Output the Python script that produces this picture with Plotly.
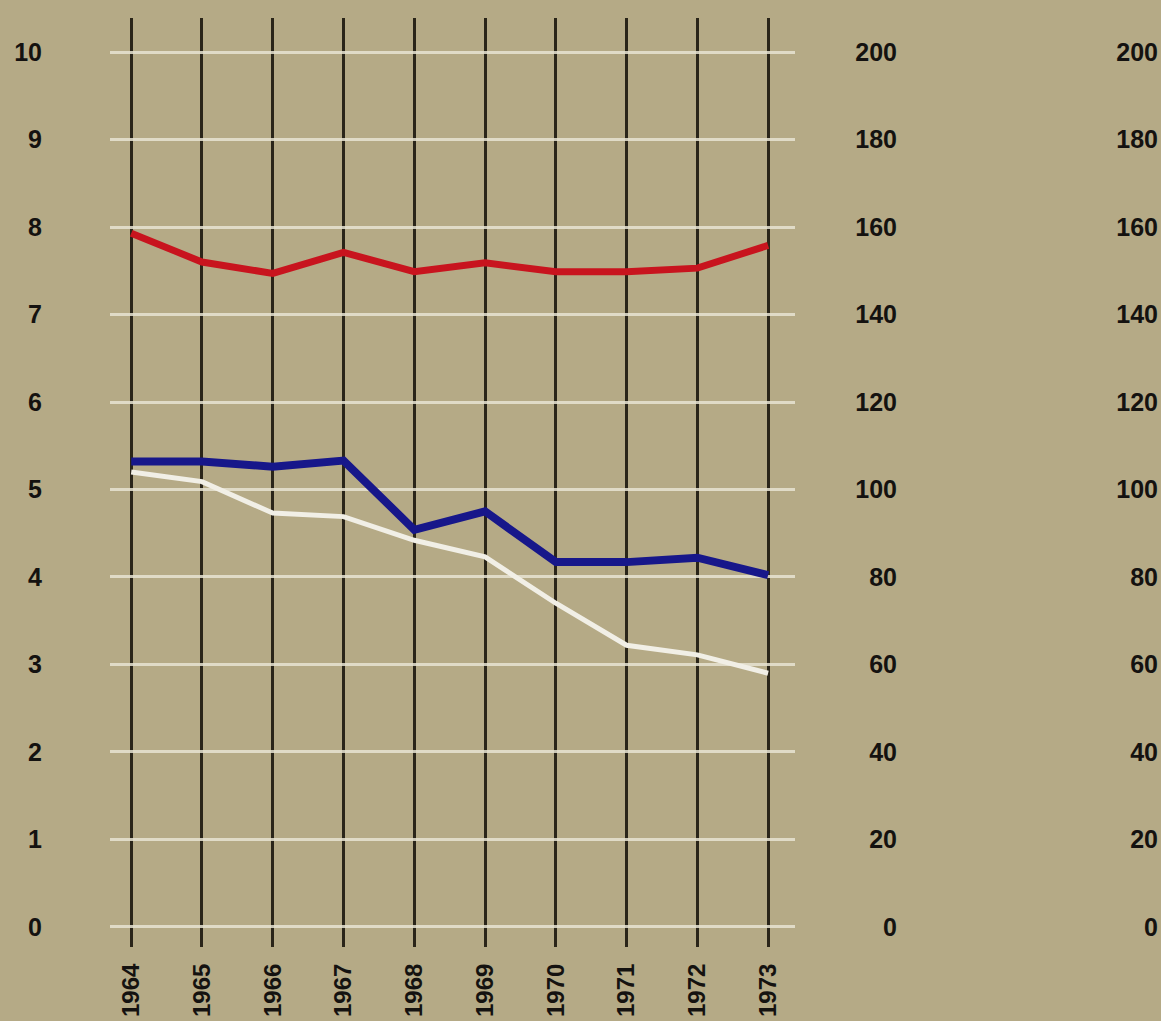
import plotly.graph_objects as go

years = ["1964", "1965", "1966", "1967", "1968", "1969", "1970", "1971", "1972", "1973"]
red_values = [7.93, 7.60, 7.47, 7.71, 7.49, 7.59, 7.49, 7.49, 7.53, 7.79]
blue_values = [5.32, 5.32, 5.26, 5.33, 4.54, 4.75, 4.17, 4.17, 4.22, 4.02]
white_values = [5.20, 5.09, 4.73, 4.69, 4.42, 4.23, 3.70, 3.22, 3.11, 2.90]
left_ticks = [0, 1, 2, 3, 4, 5, 6, 7, 8, 9, 10]
right_ticks = [0, 20, 40, 60, 80, 100, 120, 140, 160, 180, 200]

BG = "#b5aa86"
INK = "#141210"
FONT = dict(family="Liberation Sans, Arial, sans-serif", size=25, color=INK, weight="bold")
XFONT = dict(family="Liberation Sans, Arial, sans-serif", size=24, color=INK, weight="bold")

y_lo, y_hi = -0.229, 10.389
scale = 20

fig = go.Figure()
fig.add_trace(go.Scatter(x=years, y=white_values, mode="lines",
                         line=dict(color="#f1efe6", width=5), hoverinfo="skip", showlegend=False))
fig.add_trace(go.Scatter(x=years, y=blue_values, mode="lines",
                         line=dict(color="#17178a", width=8), hoverinfo="skip", showlegend=False))
fig.add_trace(go.Scatter(x=years, y=red_values, mode="lines",
                         line=dict(color="#c8141e", width=7), hoverinfo="skip", showlegend=False))
# helper traces so the right-hand scales are drawn
fig.add_trace(go.Scatter(x=[], y=[], yaxis="y2", showlegend=False, hoverinfo="skip"))
fig.add_trace(go.Scatter(x=[], y=[], yaxis="y3", showlegend=False, hoverinfo="skip"))

L = 110
paper_w = 1161 - L
x_domain_end = 685 / paper_w

fig.update_layout(
    width=1161, height=1021,
    margin=dict(l=L, r=0, t=18, b=74, autoexpand=False),
    paper_bgcolor=BG, plot_bgcolor=BG,
    font=FONT,
    showlegend=False,
    xaxis=dict(
        type="category", range=[-0.3, 9.38], domain=[0, x_domain_end],
        showgrid=True, gridcolor="#2a2519", gridwidth=2.5,
        showline=False, zeroline=False,
        ticks="outside", ticklen=6, tickcolor="rgba(0,0,0,0)",
        tickangle=-90, tickfont=XFONT, automargin=False,
    ),
    yaxis=dict(
        range=[y_lo, y_hi], tickvals=left_ticks, ticktext=[str(v) for v in left_ticks],
        showgrid=True, gridcolor="rgba(232,228,210,0.85)", gridwidth=2.5,
        zeroline=False, showline=False,
        ticks="outside", ticklen=62, tickcolor="rgba(0,0,0,0)",
        tickfont=FONT, automargin=False,
    ),
    yaxis2=dict(
        overlaying="y", side="right", anchor="free", position=(900 - L) / paper_w,
        range=[y_lo * scale, y_hi * scale], tickvals=right_ticks,
        ticktext=[str(v) for v in right_ticks],
        ticklabelposition="inside", ticks="", showgrid=False, zeroline=False,
        showline=False, tickfont=FONT, automargin=False,
    ),
    yaxis3=dict(
        overlaying="y", side="right", anchor="free", position=1.0,
        range=[y_lo * scale, y_hi * scale], tickvals=right_ticks,
        ticktext=[str(v) for v in right_ticks],
        ticklabelposition="inside", ticks="", showgrid=False, zeroline=False,
        showline=False, tickfont=FONT, automargin=False,
    ),
)

fig.write_html(
    "out.html",
    config={"displayModeBar": False},
    post_script="document.body.style.margin='0';document.body.style.padding='0';"
                "document.body.style.background='" + BG + "';",
)
